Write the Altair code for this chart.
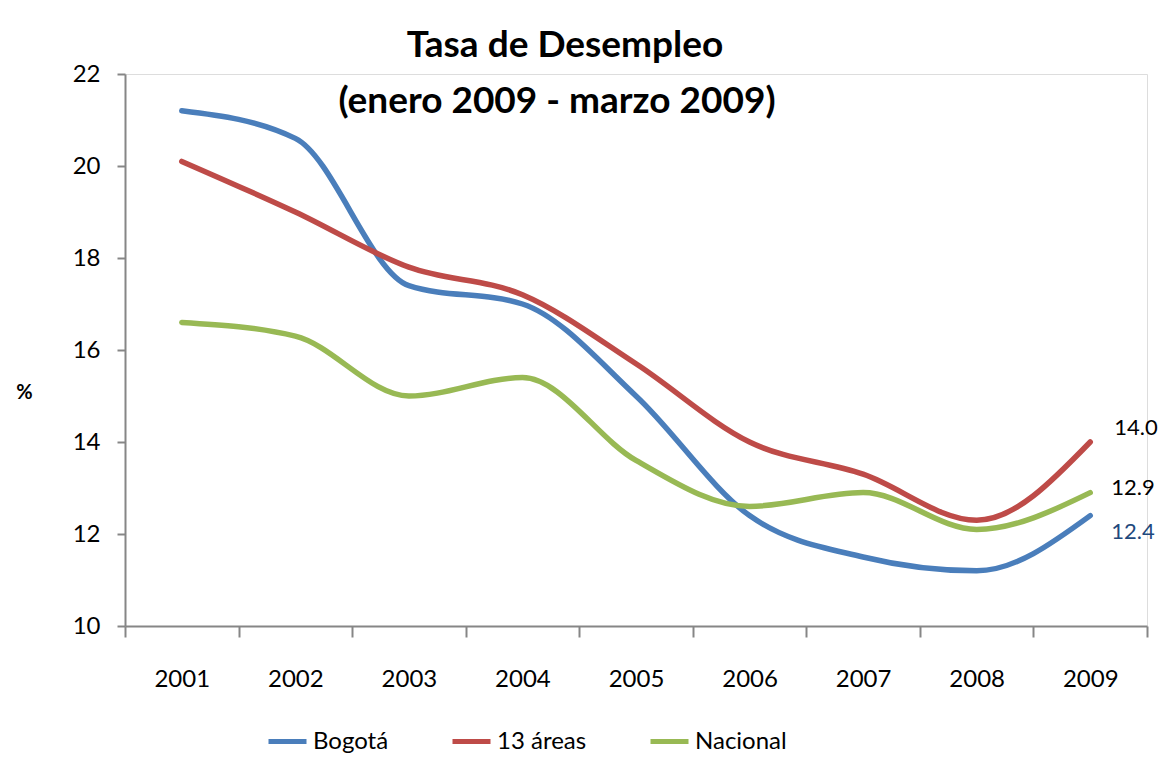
import altair as alt
import pandas as pd

years = ["2001", "2002", "2003", "2004", "2005", "2006", "2007", "2008", "2009"]
bogota = [21.2, 20.6, 17.4, 17.0, 15.0, 12.4, 11.5, 11.2, 12.4]
areas13 = [20.1, 19.0, 17.8, 17.2, 15.7, 14.0, 13.3, 12.3, 14.0]
nacional = [16.6, 16.3, 15.0, 15.4, 13.6, 12.6, 12.9, 12.1, 12.9]
series_names = ["Bogotá", "13 áreas", "Nacional"]
series_colors = ["#4A7EBB", "#BE4B48", "#98B954"]
title_lines = ["Tasa de Desempleo", "(enero 2009 - marzo 2009)"]

rows = []
for name, vals in zip(series_names, [bogota, areas13, nacional]):
    for y, v in zip(years, vals):
        rows.append({"Año": y, "Serie": name, "Valor": v})
df = pd.DataFrame(rows)

FONT = "Lato"
W, H = 1022, 552

x_enc = alt.X(
    "Año:O",
    sort=years,
    bandPosition=0.5,
    scale=alt.Scale(type="band", paddingInner=0, paddingOuter=0),
    axis=alt.Axis(
        title=None, labelAngle=0, tickBand="extent", tickSize=11,
        labelPadding=30, labelFontSize=24, labelFont=FONT, labelColor="#000000",
        domainColor="#868686", tickColor="#868686", domainWidth=2, tickWidth=2,
        grid=False,
    ),
)
y_enc = alt.Y(
    "Valor:Q",
    scale=alt.Scale(domain=[10, 22], nice=False, zero=False),
    axis=alt.Axis(
        values=[10, 12, 14, 16, 18, 20, 22], tickSize=8, labelPadding=17,
        labelFontSize=24, labelFont=FONT, labelColor="#000000",
        domainColor="#868686", tickColor="#868686", domainWidth=2, tickWidth=2,
        grid=False, title="%", titleAngle=0, titleFontSize=20, titleFont=FONT,
        titleFontWeight="bold", titleX=-101, titleY=318, titleAlign="center",
        titleBaseline="middle",
    ),
)

lines = alt.Chart(df).mark_line(interpolate="monotone", strokeWidth=5.5, strokeCap="round").encode(
    x=x_enc,
    y=y_enc,
    color=alt.Color(
        "Serie:N",
        sort=series_names,
        scale=alt.Scale(domain=series_names, range=series_colors),
        legend=alt.Legend(
            title=None, orient="none", legendX=141, legendY=646, direction="horizontal",
            symbolType="stroke", symbolSize=1444, symbolStrokeWidth=5,
            labelFontSize=24, labelFont=FONT, labelColor="#000000",
            columnPadding=53, labelOffset=4, gridAlign="none",
        ),
    ),
)

last = df[df["Año"] == "2009"]

def end_label(name, dx, dy, color):
    return alt.Chart(last[last["Serie"] == name]).mark_text(
        align="left", baseline="middle", dx=dx, dy=dy, fontSize=22, font=FONT, color=color
    ).encode(x=alt.X("Año:O", sort=years, bandPosition=0.5), y="Valor:Q", text=alt.Text("Valor:Q", format=".1f"))

lab_b = end_label("Bogotá", 21, 16, "#1F497D")
lab_a = end_label("13 áreas", 24, -14, "#000000")
lab_n = end_label("Nacional", 21, -5, "#000000")

one = alt.Data(values=[{}])
t1 = alt.Chart(one).mark_text(
    text=title_lines[0], fontSize=37, fontWeight="bold", font=FONT, align="center",
    baseline="alphabetic", color="#000000"
).encode(x=alt.value(440), y=alt.value(-17))
t2 = alt.Chart(one).mark_text(
    text=title_lines[1], fontSize=37, fontWeight="bold", font=FONT, align="center",
    baseline="alphabetic", color="#000000"
).encode(x=alt.value(432), y=alt.value(39))

chart = alt.layer(lines, lab_b, lab_a, lab_n, t1, t2).properties(
    width=W, height=H,
    autosize=alt.AutoSizeParams(type="none"),
    padding={"left": 117, "top": 66, "right": 15, "bottom": 140},
).configure_view(stroke=None).configure(background="white")

chart.save("out.html", embed_options={"renderer": "svg", "actions": False})
